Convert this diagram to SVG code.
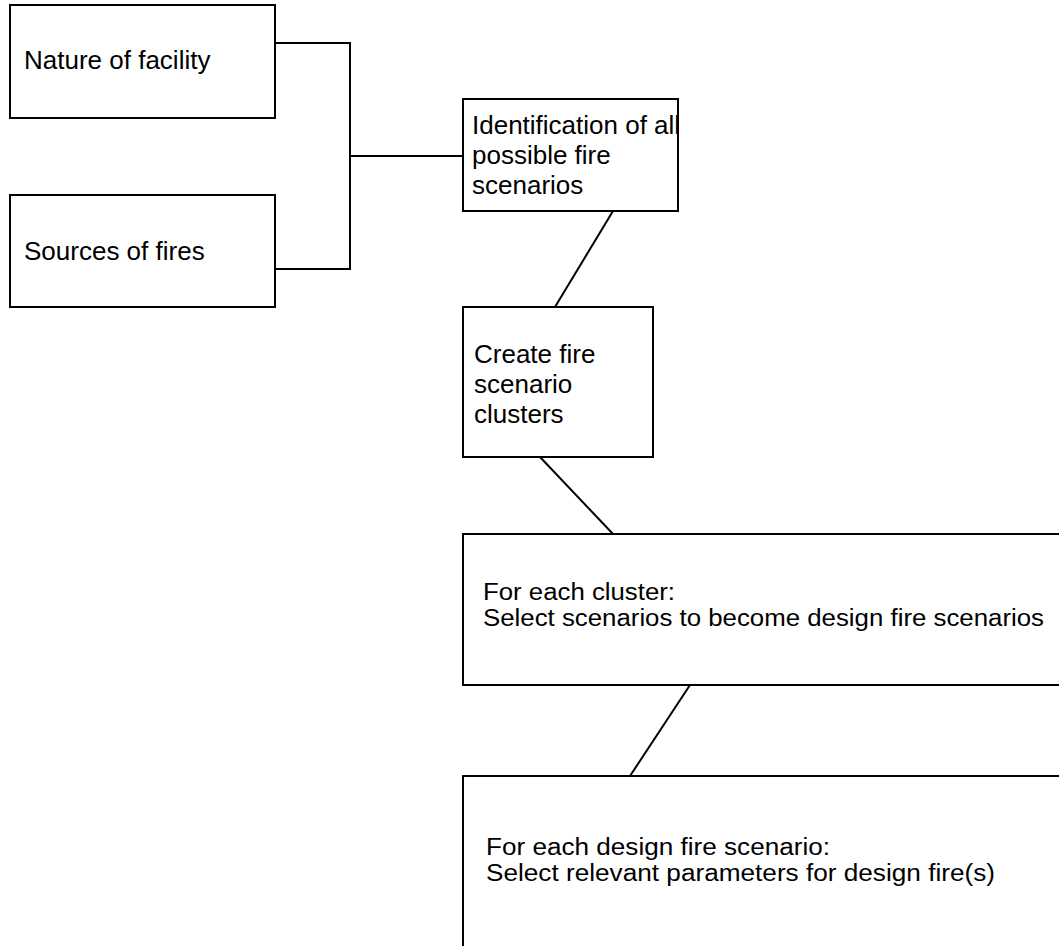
<svg xmlns="http://www.w3.org/2000/svg" width="1059" height="946" viewBox="0 0 1059 946">
<style>
.box{fill:#fff;stroke:#000;stroke-width:2}
.con{fill:none;stroke:#000;stroke-width:2}
.t{font-family:"Liberation Sans",Arial,sans-serif;font-size:26px;fill:#000}
.s{font-family:"Liberation Sans",Arial,sans-serif;font-size:23.5px;fill:#000}
</style>
<rect width="1059" height="946" fill="#fff"/>
<g id="connectors">
<polyline class="con" points="275,43 350,43 350,269 275,269"/>
<line class="con" x1="350" y1="156" x2="463" y2="156"/>
<line class="con" x1="613" y1="211" x2="555" y2="307"/>
<line class="con" x1="540" y1="457" x2="613" y2="534"/>
<line class="con" x1="690" y1="685" x2="630" y2="776"/>
</g>
<g id="nature">
<rect class="box" x="10" y="5" width="265" height="113"/>
<text class="t" x="24" y="69">Nature of facility</text>
</g>
<g id="sources">
<rect class="box" x="10" y="195" width="265" height="112"/>
<text class="t" x="24" y="260">Sources of fires</text>
</g>
<g id="identification">
<rect class="box" x="463" y="99" width="215" height="112"/>
<text class="t" x="472" y="134">Identification of all</text>
<text class="t" x="472" y="164">possible fire</text>
<text class="t" x="472" y="194">scenarios</text>
</g>
<g id="clusters">
<rect class="box" x="463" y="307" width="190" height="150"/>
<text class="t" x="474" y="363">Create fire</text>
<text class="t" x="474" y="393">scenario</text>
<text class="t" x="474" y="423">clusters</text>
</g>
<g id="select-scenarios">
<rect class="box" x="463" y="534" width="610" height="151"/>
<text class="s" x="483" y="600" textLength="192" lengthAdjust="spacingAndGlyphs">For each cluster:</text>
<text class="s" x="483" y="626" textLength="561" lengthAdjust="spacingAndGlyphs">Select scenarios to become design fire scenarios</text>
</g>
<g id="select-parameters">
<rect class="box" x="463" y="776" width="610" height="190"/>
<text class="s" x="486" y="855" textLength="344" lengthAdjust="spacingAndGlyphs">For each design fire scenario:</text>
<text class="s" x="486" y="881" textLength="509" lengthAdjust="spacingAndGlyphs">Select relevant parameters for design fire(s)</text>
</g>
</svg>
